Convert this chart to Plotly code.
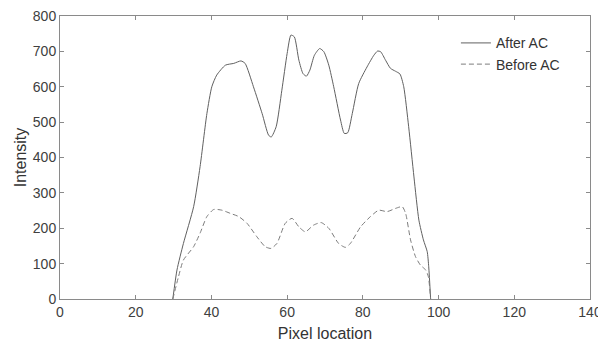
import plotly.graph_objects as go

after_x = [29.8, 30.9, 32.6, 35.3, 37.0, 38.8, 40.1, 41.4, 43.7, 45.9, 47.8, 48.9, 51.1, 53.4, 55.1, 55.8,
           57.1, 58.6, 60.0, 61.0, 61.9, 63.1, 64.2, 65.1, 66.0, 67.2, 68.6, 69.7, 71.0, 72.3, 74.1, 75.1,
           76.0, 77.2, 78.9, 81.1, 82.9, 83.9, 84.7, 86.0, 87.3, 88.6, 89.8, 90.8, 92.1, 93.5, 94.8, 96.0,
           97.0, 97.4, 97.9]
after_y = [0, 82, 157, 261, 374, 524, 600, 633, 661, 666, 673, 666, 600, 524, 463, 458,
           487, 590, 694, 746, 741, 675, 637, 630, 647, 689, 708, 699, 661, 600, 506, 468,
           470, 524, 609, 656, 689, 701, 699, 675, 652, 644, 636, 600, 487, 345, 223, 167,
           134, 91, 0]

before_x = [29.8, 31.3, 32.6, 35.3, 37.0, 38.8, 40.6, 42.8, 45.0, 47.2, 49.4, 52.0, 54.2, 55.7, 57.3,
            59.5, 61.3, 63.1, 64.8, 67.0, 69.0, 71.0, 73.6, 75.4, 76.7, 79.4, 82.0, 84.2, 86.4, 88.6,
            90.4, 91.3, 92.6, 93.9, 95.2, 96.6, 97.3, 97.9]
before_y = [0, 63, 110, 148, 186, 233, 253, 251, 242, 233, 214, 176, 148, 143, 157,
            214, 228, 204, 190, 209, 216, 200, 157, 146, 157, 204, 233, 251, 247, 256,
            261, 242, 167, 120, 96, 82, 63, 0]

x_ticks = [0, 20, 40, 60, 80, 100, 120, 140]
y_ticks = [0, 100, 200, 300, 400, 500, 600, 700, 800]

fig = go.Figure()
fig.add_trace(go.Scatter(x=after_x, y=after_y, mode="lines", name="After AC",
                         line=dict(color="#606060", width=1.0, shape="spline", smoothing=0.6)))
fig.add_trace(go.Scatter(x=before_x, y=before_y, mode="lines", name="Before AC",
                         line=dict(color="#7c7c7c", width=1.0, dash="5px,3px", shape="spline", smoothing=0.6)))

axis_common = dict(showgrid=False, zeroline=False, showline=True, linecolor="#8a8a8a", linewidth=1,
                   mirror="ticks", ticks="inside", ticklen=4, tickcolor="#8a8a8a",
                   automargin=False, ticklabeloverflow="allow",
                   tickfont=dict(size=14, color="#404040"))
fig.update_xaxes(range=[0, 140], tickvals=x_ticks,
                 title=dict(text="Pixel location", font=dict(size=16, color="#333333"), standoff=9),
                 **axis_common)
fig.update_yaxes(range=[0, 800], tickvals=y_ticks,
                 title=dict(text="Intensity", font=dict(size=16, color="#333333"), standoff=2),
                 **axis_common)

# page body has an 8px default margin, so the figure is sized/offset to compensate
fig.update_layout(
    width=598, height=334,
    margin=dict(l=52, r=16, t=8, b=43),
    paper_bgcolor="white", plot_bgcolor="white",
    font=dict(family="Liberation Sans, Arial, sans-serif", color="#333333"),
    showlegend=True,
    legend=dict(x=0.747, y=0.96, xanchor="left", yanchor="top", bgcolor="rgba(0,0,0,0)",
                font=dict(size=14, color="#333333"), tracegroupgap=0, itemwidth=30),
)

fig.write_html("out.html")
